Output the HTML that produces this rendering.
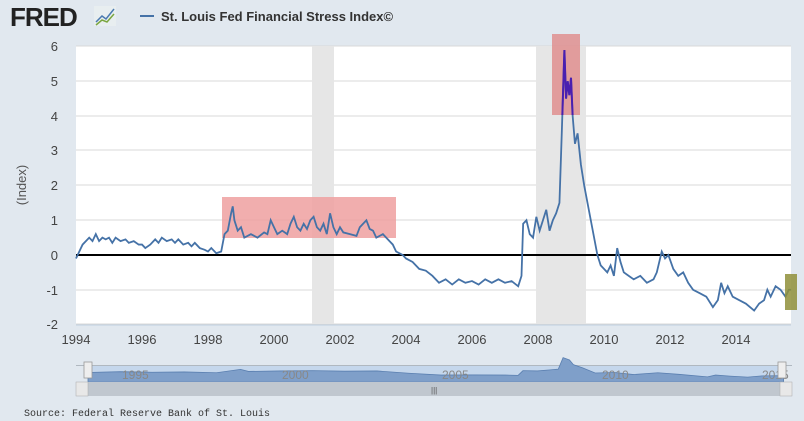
<!DOCTYPE html>
<html><head><meta charset="utf-8"><style>
body{margin:0;width:804px;height:421px;background:#e1e8ef;font-family:"Liberation Sans",sans-serif;overflow:hidden;position:relative}
</style></head><body>
<svg width="804" height="421" style="position:absolute;left:0;top:0">
<defs>
<clipPath id="rc"><rect x="552" y="34" width="28" height="81"/></clipPath>
</defs>
<text x="10" y="26" font-family="Liberation Sans" font-weight="bold" font-size="26" fill="#222" letter-spacing="-1">FRED</text>
<rect x="94" y="6" width="22" height="20" fill="#e8eef0"/>
<polyline points="96,22 102,16 106,19 114,9" fill="none" stroke="#4a7ab0" stroke-width="1.5"/>
<polyline points="96,25 102,20 107,22 114,14" fill="none" stroke="#7aa640" stroke-width="1.5"/>
<line x1="140" y1="16" x2="154" y2="16" stroke="#4572a7" stroke-width="2"/>
<text x="161" y="21" font-size="13" font-weight="bold" fill="#333">St. Louis Fed Financial Stress Index©</text>
<rect x="76" y="45.5" width="715" height="279" fill="#fff"/>
<g stroke="#d8d8d8" stroke-width="1">
<line x1="76" x2="791" y1="46" y2="46"/><line x1="76" x2="791" y1="81" y2="81"/><line x1="76" x2="791" y1="116" y2="116"/><line x1="76" x2="791" y1="150" y2="150"/><line x1="76" x2="791" y1="185" y2="185"/><line x1="76" x2="791" y1="220" y2="220"/><line x1="76" x2="791" y1="290" y2="290"/><line x1="76" x2="791" y1="324" y2="324"/>
</g>
<rect x="312" y="46" width="22" height="278" fill="#e6e6e6"/>
<rect x="536" y="46" width="50" height="278" fill="#e6e6e6"/>
<rect x="222" y="197" width="174" height="41" fill="#eea0a0" opacity="0.85"/>
<rect x="552" y="34" width="28" height="81" fill="#e08a8a" opacity="0.8"/>
<line x1="76" x2="791" y1="255" y2="255" stroke="#000" stroke-width="2"/>
<g id="ln" transform="translate(76,255) scale(33,-34.75)">
<polyline id="pl" vector-effect="non-scaling-stroke" fill="none" stroke="#4572a7" stroke-width="1.8" points="0,-0.1 0.1,0.1 0.2,0.3 0.3,0.4 0.4,0.5 0.5,0.4 0.6,0.6 0.7,0.4 0.8,0.5 0.9,0.45 1,0.5 1.1,0.35 1.2,0.5 1.35,0.4 1.5,0.45 1.6,0.35 1.75,0.4 1.9,0.3 2,0.3 2.1,0.2 2.25,0.3 2.4,0.45 2.5,0.35 2.6,0.5 2.75,0.4 2.9,0.45 3,0.35 3.1,0.45 3.25,0.3 3.4,0.35 3.5,0.25 3.6,0.35 3.75,0.2 3.9,0.15 4,0.1 4.1,0.2 4.25,0.05 4.4,0.1 4.5,0.6 4.6,0.7 4.7,1.2 4.75,1.4 4.8,1 4.9,0.7 5,0.8 5.1,0.5 5.3,0.6 5.5,0.5 5.7,0.65 5.8,0.6 5.9,1.0 6,0.8 6.1,0.6 6.25,0.7 6.4,0.6 6.5,0.9 6.6,1.1 6.7,0.8 6.8,0.7 6.9,0.9 7,0.75 7.1,1.0 7.2,1.1 7.3,0.8 7.4,0.7 7.5,0.9 7.6,0.6 7.7,1.2 7.8,0.8 7.9,0.6 8,0.8 8.1,0.65 8.3,0.6 8.5,0.55 8.6,0.8 8.7,0.9 8.8,1.0 8.9,0.75 9,0.7 9.1,0.5 9.3,0.6 9.5,0.4 9.6,0.3 9.7,0.1 9.9,0.0 10,-0.1 10.2,-0.2 10.4,-0.4 10.6,-0.45 10.8,-0.6 11,-0.8 11.2,-0.7 11.4,-0.85 11.6,-0.7 11.8,-0.8 12,-0.75 12.2,-0.85 12.4,-0.7 12.6,-0.8 12.8,-0.7 13,-0.8 13.2,-0.75 13.4,-0.9 13.5,-0.6 13.55,0.9 13.65,1.0 13.75,0.6 13.85,0.5 13.95,1.1 14.05,0.7 14.15,1.0 14.25,1.3 14.35,0.7 14.45,1.0 14.55,1.2 14.65,1.5 14.72,3.5 14.8,5.9 14.85,4.5 14.9,5.0 14.95,4.6 15.0,5.1 15.05,4.0 15.12,3.2 15.2,3.5 15.3,2.6 15.4,2.0 15.5,1.5 15.6,1.0 15.7,0.5 15.8,0.0 15.9,-0.3 16.0,-0.4 16.1,-0.5 16.2,-0.3 16.3,-0.6 16.4,0.2 16.5,-0.2 16.6,-0.5 16.75,-0.6 16.9,-0.7 17.1,-0.6 17.3,-0.8 17.5,-0.7 17.6,-0.5 17.75,0.1 17.85,-0.1 17.95,0.0 18.1,-0.4 18.25,-0.6 18.4,-0.5 18.55,-0.8 18.7,-1.0 18.9,-1.1 19.1,-1.2 19.3,-1.5 19.45,-1.3 19.55,-0.8 19.65,-1.1 19.75,-0.9 19.9,-1.2 20.1,-1.3 20.3,-1.4 20.55,-1.6 20.7,-1.4 20.85,-1.3 20.95,-1.0 21.05,-1.2 21.2,-0.9 21.35,-1.0 21.5,-1.2 21.6,-1.0 21.67,-1.0"/>
</g>
<g clip-path="url(#rc)">
<g transform="translate(76,255) scale(33,-34.75)">
<polyline vector-effect="non-scaling-stroke" fill="none" stroke="#4a1fb0" stroke-width="2" points="14.65,1.5 14.72,3.5 14.8,5.9 14.85,4.5 14.9,5.0 14.95,4.6 15.0,5.1 15.05,4.0 15.12,3.2"/>
</g>
</g>
<rect x="785" y="274" width="12" height="36" fill="#8f8f3a" opacity="0.85"/>
<g font-size="13" fill="#444" text-anchor="end">
<text x="58" y="51">6</text><text x="58" y="86">5</text><text x="58" y="121">4</text><text x="58" y="155">3</text><text x="58" y="190">2</text><text x="58" y="225">1</text><text x="58" y="260">0</text><text x="58" y="295">-1</text><text x="58" y="329">-2</text>
</g>
<text transform="translate(26,185) rotate(-90)" font-size="13" fill="#555" text-anchor="middle">(Index)</text>
<line x1="76" x2="791" y1="325" y2="325" stroke="#c0d0e0"/>
<g font-size="13" fill="#444" text-anchor="middle">
<text x="76" y="344">1994</text><text x="142" y="344">1996</text><text x="208" y="344">1998</text><text x="274" y="344">2000</text><text x="340" y="344">2002</text><text x="406" y="344">2004</text><text x="472" y="344">2006</text><text x="538" y="344">2008</text><text x="604" y="344">2010</text><text x="670" y="344">2012</text><text x="736" y="344">2014</text>
</g>
<rect x="88" y="366" width="694" height="16" fill="#c5d7ec"/>
<line x1="76" x2="792" y1="365.5" y2="365.5" stroke="#b0b8c0"/>
<g transform="translate(88,373) scale(32.1,-2.6)">
<polygon fill="#7f9fc9" stroke="#5a7fb0" vector-effect="non-scaling-stroke" stroke-width="0.8" points="0,-3.5 0,0.2 1,0.5 2,0.3 3,0.4 4,0.1 4.75,1.4 5,0.6 6,0.8 7,0.9 8,0.7 9,0.8 10,-0.1 11,-0.8 12,-0.75 13,-0.8 13.4,-0.9 13.55,0.9 14,0.8 14.4,1.2 14.65,1.5 14.8,5.9 15,5.0 15.12,3.2 15.4,2.0 15.8,0 16.4,0.2 17,-0.6 17.75,0.1 18.4,-0.5 19.3,-1.5 19.55,-0.8 20,-1.2 20.55,-1.6 21,-1.1 21.67,-1.0 21.67,-3.5"/>
</g>
<g font-size="12" fill="#888">
<text x="122" y="379">1995</text><text x="282" y="379">2000</text><text x="442" y="379">2005</text><text x="602" y="379">2010</text><text x="762" y="379">2015</text>
</g>
<rect x="84" y="362" width="8" height="16" fill="#eee" stroke="#999" stroke-width="0.8"/>
<rect x="778" y="362" width="8" height="16" fill="#eee" stroke="#999" stroke-width="0.8"/>
<rect x="76" y="382" width="716" height="14" fill="#c0c7cf"/>
<rect x="76" y="382" width="12" height="14" fill="#e8e8e8" stroke="#aaa" stroke-width="0.5"/>
<rect x="780" y="382" width="12" height="14" fill="#e8e8e8" stroke="#aaa" stroke-width="0.5"/>
<text x="431" y="393" font-size="8" fill="#555">|||</text>
<text x="24" y="416" font-size="10" fill="#333" font-family="Liberation Mono">Source: Federal Reserve Bank of St. Louis</text>
</svg>
</body></html>
